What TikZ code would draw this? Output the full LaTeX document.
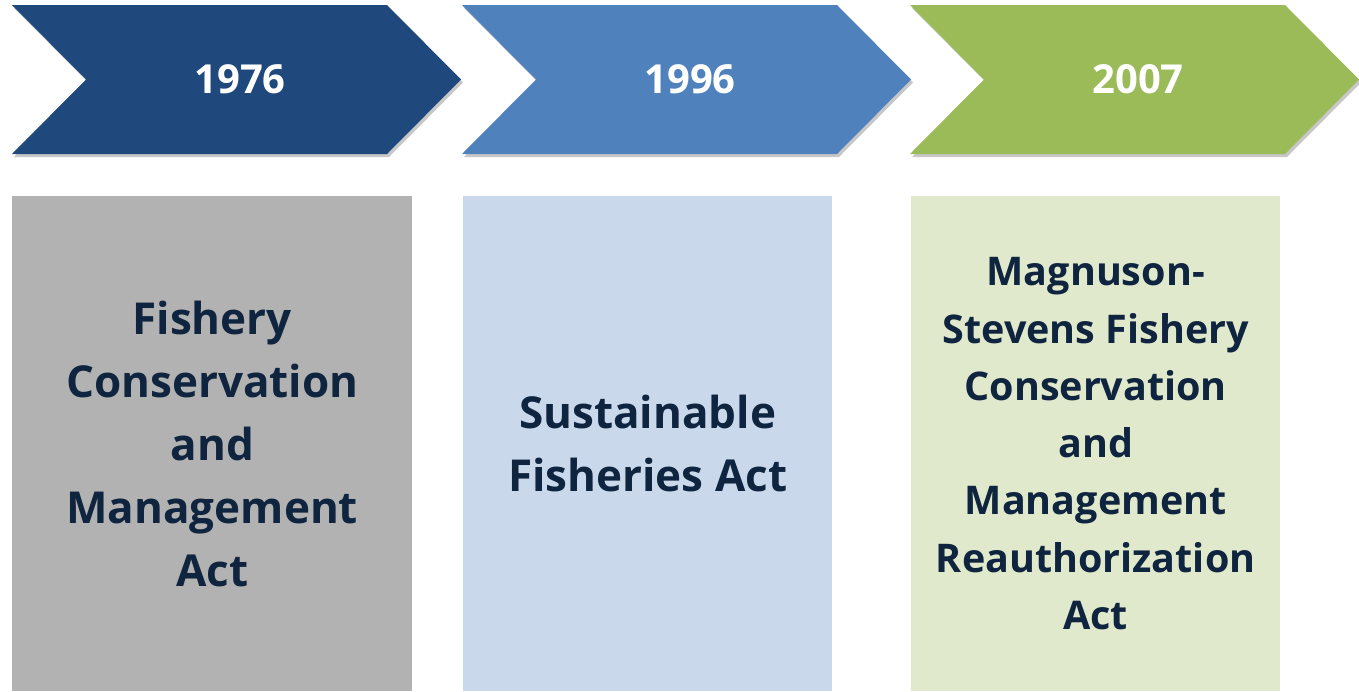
\documentclass[tikz,border=0pt]{standalone}
\usepackage{fontspec}
\setmainfont{Open Sans}
\usetikzlibrary{positioning, shadows}
\definecolor{arrowNavy}{HTML}{1F497D}
\definecolor{arrowBlue}{HTML}{4F81BD}
\definecolor{arrowGreen}{HTML}{9BBB59}
\definecolor{boxGray}{HTML}{B2B2B2}
\definecolor{boxBlue}{HTML}{C9D9EB}
\definecolor{boxGreen}{HTML}{E1E9CD}
\definecolor{actText}{HTML}{0F243E}
\tikzset{
    chevron/.style={drop shadow={shadow xshift=2pt, shadow yshift=-3pt, fill=black, opacity=0.22}},
    yearLabel/.style={text=white, inner sep=0pt, font=\fontsize{40}{48}\selectfont\bfseries},
    actBox/.style={rectangle, anchor=north west, inner sep=0pt, minimum height=495pt, align=center, text=actText, font=\fontsize{44}{63}\selectfont\bfseries}
}

\begin{document}
\begin{tikzpicture}[x=1pt, y=-1pt]

        \useasboundingbox (0,0) rectangle (1359,691);

        % Coordinates (top left corner of each column)
        \coordinate (C1) at (12,196);
        \coordinate (C2) at (463,196);
        \coordinate (C3) at (911,196);

        % 1. Year chevrons
        \foreach \x/\col/\yr/\nm in {12/arrowNavy/1976/Y1, 462/arrowBlue/1996/Y2, 910/arrowGreen/2007/Y3} {
            \fill[chevron, \col] (\x,5) -- ++(375,0) -- ++(74,74.5) -- ++(-74,74.5) -- ++(-375,0) -- ++(74,-74.5) -- cycle;
            \node[yearLabel] (\nm) at (\x+228,79) {\yr};
        }

        % 2. Act boxes
        \node[actBox, fill=boxGray, minimum width=400pt] (A1) at (C1) {Fishery\\Conservation\\and\\Management\\Act};
        \node[actBox, fill=boxBlue, minimum width=369pt] (A2) at (C2) {Sustainable\\Fisheries Act};
        \node[actBox, fill=boxGreen, minimum width=369pt, font=\fontsize{39.5}{57.3}\selectfont\bfseries] (A3) at (C3) {Magnuson-\\Stevens Fishery\\Conservation\\and\\Management\\Reauthorization\\Act};

\end{tikzpicture}
\end{document}
